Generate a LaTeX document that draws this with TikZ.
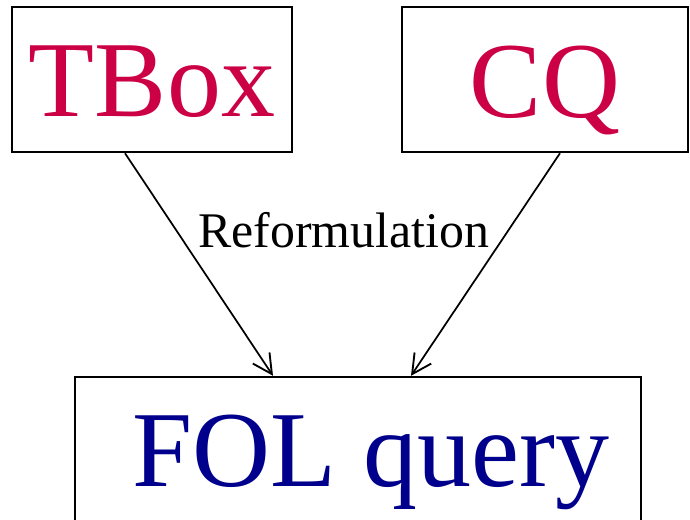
\documentclass[tikz,border=0pt]{standalone}
\usepackage{fontspec}
\setmainfont{Liberation Serif}
\usetikzlibrary{arrows.meta,calc}
\definecolor{crimsonred}{RGB}{204,0,68}
\definecolor{navyblue}{RGB}{0,0,140}
\tikzset{
  box/.style={draw=black, line width=1.8pt, rectangle, inner sep=0pt},
  boxlabel/.style={anchor=base, inner sep=0pt, font=\fontsize{81pt}{81pt}\selectfont},
  flow/.style={draw=black, line width=1.3pt, -{Straight Barb[length=14.5pt,width=15pt,line width=1.4pt]}},
}
\begin{document}
\begin{tikzpicture}[x=0.75pt,y=-0.75pt]
  \clip (0,0) rectangle (690,520);
  % input boxes
  \node[box, minimum width=210pt, minimum height=108.75pt] (tbox) at (152,79.5) {};
  \node[box, minimum width=214.5pt, minimum height=108.75pt] (cq) at (545,79.5) {};
  % output box (runs past the lower edge)
  \node[box, minimum width=424.5pt, minimum height=137.25pt] (fol) at (358,468.5) {};
  % labels
  \node[boxlabel, text=crimsonred] (tboxtext) at (152,117) {TBox};
  \node[boxlabel, text=crimsonred] (cqtext) at (545,118) {CQ};
  \node[boxlabel, text=navyblue] (foltext) at (371,487) {FOL query};
  % arrows
  \draw[flow] ($(tbox.south)+(-27,0)$) -- ($(fol.north)+(-85,0)$);
  \draw[flow] ($(cq.south)+(15,0)$) -- ($(fol.north)+(53,0)$);
  \node[anchor=base, inner sep=0pt, font=\fontsize{37.4pt}{37.4pt}\selectfont] (reform) at (343.5,248) {Reformulation};
\end{tikzpicture}
\end{document}
